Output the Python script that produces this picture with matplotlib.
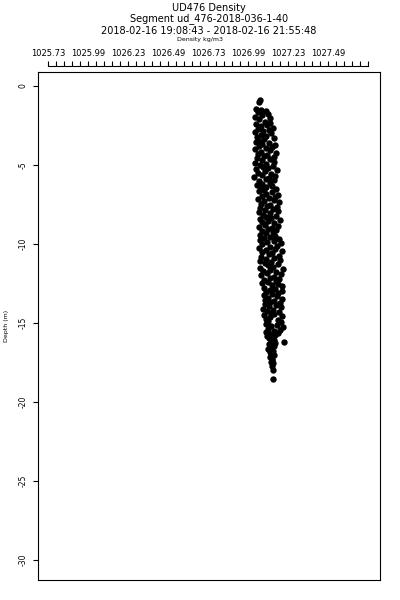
#!/usr/bin/python
# coding:utf-8

from matplotlib import pyplot as plt
import numpy as np

# density profile, grouped by depth band
depth_top = [-0.88, -1.02, -1.45, -1.52, -1.58, -1.66, -1.75, -1.84, -1.95, -2.05,
             -2.12, -2.25, -2.33, -2.40, -2.48, -2.55, -2.63, -2.70, -2.78, -2.85,
             -2.93, -3.00, -3.08, -3.15, -3.22, -3.30, -3.37, -3.45]
dens_top = [1027.055, 1027.048, 1027.030, 1027.062, 1027.095, 1027.040, 1027.105, 1027.070, 1027.025, 1027.115,
            1027.050, 1027.085, 1027.120, 1027.030, 1027.100, 1027.060, 1027.135, 1027.045, 1027.110, 1027.075,
            1027.025, 1027.125, 1027.060, 1027.095, 1027.035, 1027.140, 1027.080, 1027.050]

depth_upper = [-3.52, -3.59, -3.66, -3.73, -3.80, -3.87, -3.94, -4.01, -4.08, -4.15,
               -4.22, -4.29, -4.36, -4.43, -4.50, -4.57, -4.64, -4.71, -4.78, -4.85,
               -4.92, -4.99, -5.06, -5.13, -5.20, -5.27, -5.34, -5.41, -5.48, -5.55,
               -5.62, -5.69, -5.76, -5.83, -5.90, -5.97, -6.04, -6.11, -6.18, -6.25,
               -6.32, -6.39, -6.46, -6.53, -6.60]
dens_upper = [1027.030, 1027.110, 1027.070, 1027.150, 1027.050, 1027.130, 1027.090, 1027.022, 1027.120, 1027.060,
              1027.155, 1027.040, 1027.100, 1027.080, 1027.140, 1027.035, 1027.115, 1027.065, 1027.145, 1027.025,
              1027.095, 1027.055, 1027.135, 1027.075, 1027.105, 1027.030, 1027.160, 1027.085, 1027.045, 1027.125,
              1027.065, 1027.150, 1027.020, 1027.110, 1027.090, 1027.140, 1027.050, 1027.120, 1027.070, 1027.035,
              1027.130, 1027.095, 1027.060, 1027.155, 1027.080]

depth_mid = [-6.67, -6.74, -6.81, -6.88, -6.95, -7.02, -7.09, -7.16, -7.23, -7.30,
             -7.37, -7.44, -7.51, -7.58, -7.65, -7.72, -7.79, -7.86, -7.93, -8.00,
             -8.07, -8.14, -8.21, -8.28, -8.35, -8.42, -8.49, -8.56, -8.63, -8.70,
             -8.77, -8.84, -8.91, -8.98, -9.05, -9.12, -9.19, -9.26, -9.33, -9.40,
             -9.47, -9.54, -9.61, -9.68]
dens_mid = [1027.050, 1027.130, 1027.090, 1027.170, 1027.065, 1027.150, 1027.110, 1027.045, 1027.140, 1027.080,
            1027.175, 1027.060, 1027.120, 1027.100, 1027.160, 1027.055, 1027.135, 1027.085, 1027.165, 1027.048,
            1027.115, 1027.075, 1027.155, 1027.095, 1027.125, 1027.052, 1027.178, 1027.105, 1027.068, 1027.145,
            1027.088, 1027.170, 1027.046, 1027.128, 1027.108, 1027.158, 1027.070, 1027.138, 1027.092, 1027.058,
            1027.148, 1027.118, 1027.078, 1027.172]

depth_lower = [-9.75, -9.82, -9.89, -9.96, -10.03, -10.10, -10.17, -10.24, -10.31, -10.38,
               -10.45, -10.52, -10.59, -10.66, -10.73, -10.80, -10.87, -10.94, -11.01, -11.08,
               -11.15, -11.22, -11.29, -11.36, -11.43, -11.50, -11.57, -11.64, -11.71, -11.78,
               -11.85, -11.92, -11.99, -12.06, -12.13, -12.20, -12.27, -12.34, -12.41, -12.48,
               -12.55, -12.62, -12.69]
dens_lower = [1027.055, 1027.140, 1027.100, 1027.185, 1027.070, 1027.160, 1027.120, 1027.050, 1027.150, 1027.090,
              1027.195, 1027.065, 1027.130, 1027.110, 1027.175, 1027.060, 1027.145, 1027.095, 1027.180, 1027.052,
              1027.125, 1027.085, 1027.170, 1027.105, 1027.135, 1027.058, 1027.198, 1027.115, 1027.075, 1027.155,
              1027.098, 1027.188, 1027.062, 1027.142, 1027.118, 1027.172, 1027.080, 1027.152, 1027.102, 1027.068,
              1027.165, 1027.128, 1027.190]

depth_deep = [-12.76, -12.83, -12.90, -12.97, -13.04, -13.11, -13.18, -13.25, -13.32, -13.39,
              -13.46, -13.53, -13.60, -13.67, -13.74, -13.81, -13.88, -13.95, -14.02, -14.09,
              -14.16, -14.23, -14.30, -14.37, -14.44, -14.51, -14.58, -14.65, -14.72, -14.79,
              -14.86, -14.93, -15.00]
dens_deep = [1027.080, 1027.150, 1027.115, 1027.190, 1027.095, 1027.170, 1027.130, 1027.078, 1027.160, 1027.105,
             1027.192, 1027.088, 1027.140, 1027.120, 1027.180, 1027.085, 1027.155, 1027.110, 1027.185, 1027.076,
             1027.135, 1027.100, 1027.175, 1027.125, 1027.145, 1027.082, 1027.195, 1027.118, 1027.092, 1027.165,
             1027.108, 1027.188, 1027.098]

depth_bottom = [-15.07, -15.14, -15.21, -15.28, -15.35, -15.42, -15.49, -15.56, -15.63, -15.70,
                -15.77, -15.84, -15.91, -15.98, -16.05, -16.20, -16.15, -16.25, -16.35, -16.45,
                -16.55, -16.65, -16.75, -16.85, -16.95, -17.05, -17.15, -17.25, -17.35, -17.45,
                -17.55, -17.75, -18.00, -18.55]
dens_bottom = [1027.095, 1027.160, 1027.125, 1027.200, 1027.105, 1027.180, 1027.140, 1027.090, 1027.170, 1027.115,
               1027.150, 1027.100, 1027.130, 1027.110, 1027.145, 1027.208, 1027.125, 1027.150, 1027.110, 1027.140,
               1027.120, 1027.105, 1027.135, 1027.115, 1027.125, 1027.145, 1027.118, 1027.130, 1027.128, 1027.122,
               1027.135, 1027.130, 1027.134, 1027.136]

# top axis ticks (labels as printed on the original)
tick_pos = [1025.73, 1025.98, 1026.23, 1026.48, 1026.73, 1026.98, 1027.23, 1027.48]
tick_lab = ['1025.73', '1025.99', '1026.23', '1026.49', '1026.73', '1026.99', '1027.23', '1027.49']
minor_pos = [1025.73 + 0.05 * i for i in range(41)]
ytick_pos = [0, -5, -10, -15, -20, -25, -30]

title_lines = ['UD476 Density', 'Segment ud_476-2018-036-1-40',
               '2018-02-16 19:08:43 - 2018-02-16 21:55:48']

depth = np.concatenate([depth_top, depth_upper, depth_mid, depth_lower, depth_deep, depth_bottom])
dens = np.concatenate([dens_top, dens_upper, dens_mid, dens_lower, dens_deep, dens_bottom])

xlim = (1025.6675, 1027.805)
ylim = (-31.27, 0.886)

fig = plt.figure(figsize=(4, 6), dpi=100)
ax = fig.add_axes([0.095, 0.0333, 0.855, 0.8467])
ax.scatter(dens, depth, s=21, color='black', linewidths=0, marker='o')
ax.set_xlim(xlim)
ax.set_ylim(ylim)
for sp in ax.spines.values():
    sp.set_linewidth(0.8)
ax.set_xticks([])
ax.set_yticks(ytick_pos)
ax.set_yticklabels([str(v) for v in ytick_pos], rotation=90, va='center', fontsize=5.5)
ax.tick_params(axis='y', direction='out', length=3.6, width=0.8, pad=4)
ax.set_ylabel('Depth (m)', fontsize=4.5, labelpad=7)

# separate density axis floating above the box
ax2 = ax.twiny()
ax2.set_xlim(xlim)
for k in ['bottom', 'left', 'right']:
    ax2.spines[k].set_visible(False)
ax2.spines['top'].set_position(('outward', 4.5))
ax2.spines['top'].set_bounds(1025.73, 1027.73)
ax2.spines['top'].set_linewidth(0.8)
ax2.set_xticks(tick_pos)
ax2.set_xticklabels(tick_lab, fontsize=6)
ax2.set_xticks(minor_pos, minor=True)
ax2.tick_params(axis='x', which='both', direction='out', length=3.6, width=0.8, pad=2)

xc = 0.5225
fig.text(xc, 0.9867, title_lines[0], ha='center', va='center', fontsize=7)
fig.text(xc, 0.9683, title_lines[1], ha='center', va='center', fontsize=7)
fig.text(xc, 0.948, title_lines[2], ha='center', va='center', fontsize=7)
fig.text(0.50, 0.935, 'Density kg/m3', ha='center', va='center', fontsize=4.5)

plt.savefig('out.png', dpi=100)
